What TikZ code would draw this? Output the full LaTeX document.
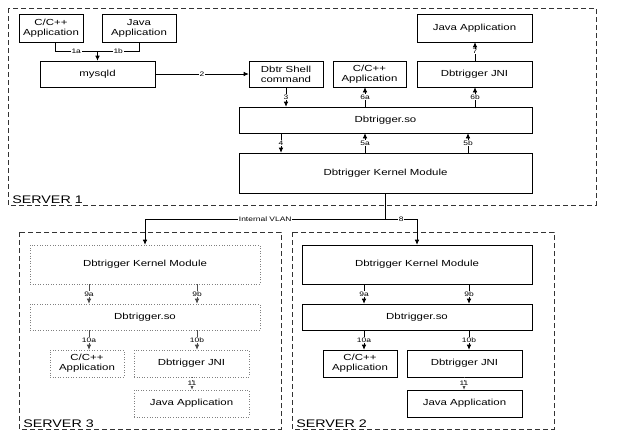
\documentclass[tikz,border=0pt]{standalone}
\usepackage{fontspec}
\setmainfont{Liberation Sans}[FakeStretch=1.3]
\usetikzlibrary{calc,arrows.meta}
\newcommand{\vdraw}[5]{\draw[#1] let \p1 = (#2), \p2 = (#3) in (#4pt, \y1) -- (#4pt, \y2) node[lbl, midway] {#5}}

\begin{document}
\begin{tikzpicture}[x=1pt, y=-1pt, >={Latex[length=5pt, width=4.5pt]}, line width=0.6pt,
    box/.style={draw, align=center, inner sep=0pt, font=\fontsize{8.8}{9.8}\selectfont},
    ghost/.style={box, draw=gray, dotted},
    app/.style={minimum width=74pt, minimum height=27pt},
    wideapp/.style={minimum width=115pt, minimum height=27pt},
    lib/.style={minimum height=26pt},
    kern/.style={minimum height=39pt},
    lbl/.style={fill=white, inner sep=0.6pt, font=\fontsize{6.5}{7}\selectfont},
    frame/.style={draw=black!80, dash pattern=on 5pt off 3pt},
    srv/.style={anchor=south west, inner sep=2pt, font=\fontsize{11}{12}\selectfont},
    link/.style={->},
    glink/.style={->, draw=black!70},
    dlink/.style={->, draw=black!70, dotted}]
    \useasboundingbox (0,0) rectangle (633,434);

    % server 1
    \draw[frame] (8,8) rectangle (596,205);
    \node[srv] (s1) at (10,206) {SERVER 1};
    \node[box, minimum width=64pt, minimum height=28pt] (capp1) at (51,28) {C/C++\\Application};
    \node[box, app, minimum height=28pt] (japp1) at (139,28) {Java\\Application};
    \node[box, minimum width=115pt, lib] (mysqld) at (97.5,74) {mysqld};
    \node[box, app, lib] (shell) at (286,74) {Dbtr Shell\\command};
    \node[box, minimum width=73pt, lib] (capp2) at (369.5,74) {C/C++\\Application};
    \node[box, wideapp, lib] (jni1) at (474.5,74) {Dbtrigger JNI};
    \node[box, wideapp, minimum height=28pt] (japp2) at (474.5,28) {Java Application};
    \node[box, lib, minimum width=293pt] (so1) at (385.5,120) {Dbtrigger.so};
    \node[box, minimum width=293pt, minimum height=40pt] (kern1) at (385.5,173) {Dbtrigger Kernel Module};

    \coordinate (j1) at (97.5,51);
    \draw ([xshift=4pt]capp1.south) |- node[lbl, pos=0.75] {1a} (j1);
    \draw (japp1.south) |- node[lbl, pos=0.75] {1b} (j1);
    \draw[link] (j1) -- (mysqld.north);
    \draw[link] (mysqld) -- node[lbl] {2} (shell);
    \vdraw{link}{shell.south}{so1.north}{286}{3};
    \vdraw{link}{so1.south}{kern1.north}{281}{4};
    \vdraw{link}{kern1.north}{so1.south}{365}{5a};
    \vdraw{link}{kern1.north}{so1.south}{468}{5b};
    \vdraw{link}{so1.north}{capp2.south}{365}{6a};
    \vdraw{link}{so1.north}{jni1.south}{475}{6b};
    \vdraw{link}{jni1.north}{japp2.south}{475}{7};

    % server 3
    \draw[frame] (19,232) rectangle (281,429);
    \node[srv] (s3) at (21,430) {SERVER 3};
    \node[ghost, kern, minimum width=230pt] (kern3) at (145,264.5) {Dbtrigger Kernel Module};
    \node[ghost, lib, minimum width=230pt] (so3) at (145,317) {Dbtrigger.so};
    \node[ghost, app] (capp3) at (87,363.5) {C/C++\\Application};
    \node[ghost, wideapp] (jni3) at (191.5,363.5) {Dbtrigger JNI};
    \node[ghost, wideapp] (japp3) at (191.5,403.5) {Java Application};
    \vdraw{glink}{kern3.south}{so3.north}{89}{9a};
    \vdraw{glink}{kern3.south}{so3.north}{197}{9b};
    \vdraw{glink}{so3.south}{capp3.north}{89}{10a};
    \vdraw{glink}{so3.south}{jni3.north}{197}{10b};
    \vdraw{dlink}{jni3.south}{japp3.north}{192}{11};

    % server 2
    \draw[frame] (292,232) rectangle (554,429);
    \node[srv] (s2) at (294,430) {SERVER 2};
    \node[box, kern, minimum width=230pt] (kern2) at (417,264.5) {Dbtrigger Kernel Module};
    \node[box, lib, minimum width=230pt] (so2) at (417,317) {Dbtrigger.so};
    \node[box, app] (capp4) at (360,363.5) {C/C++\\Application};
    \node[box, wideapp] (jni2) at (464.5,363.5) {Dbtrigger JNI};
    \node[box, wideapp] (japp4) at (464.5,403.5) {Java Application};
    \vdraw{link}{kern2.south}{so2.north}{364}{9a};
    \vdraw{link}{kern2.south}{so2.north}{469}{9b};
    \vdraw{link}{so2.south}{capp4.north}{364}{10a};
    \vdraw{link}{so2.south}{jni2.north}{469}{10b};
    \vdraw{dlink}{jni2.south}{japp4.north}{464}{11};

    % internal vlan
    \coordinate (vlan) at (385.5,219);
    \draw (kern1.south) -- (vlan);
    \draw[link] (vlan) -| node[lbl, pos=0.25] {Internal VLAN} (kern3.north);
    \draw[link] (vlan) -| node[lbl, pos=0.25] {8} (kern2.north);
\end{tikzpicture}
\end{document}
